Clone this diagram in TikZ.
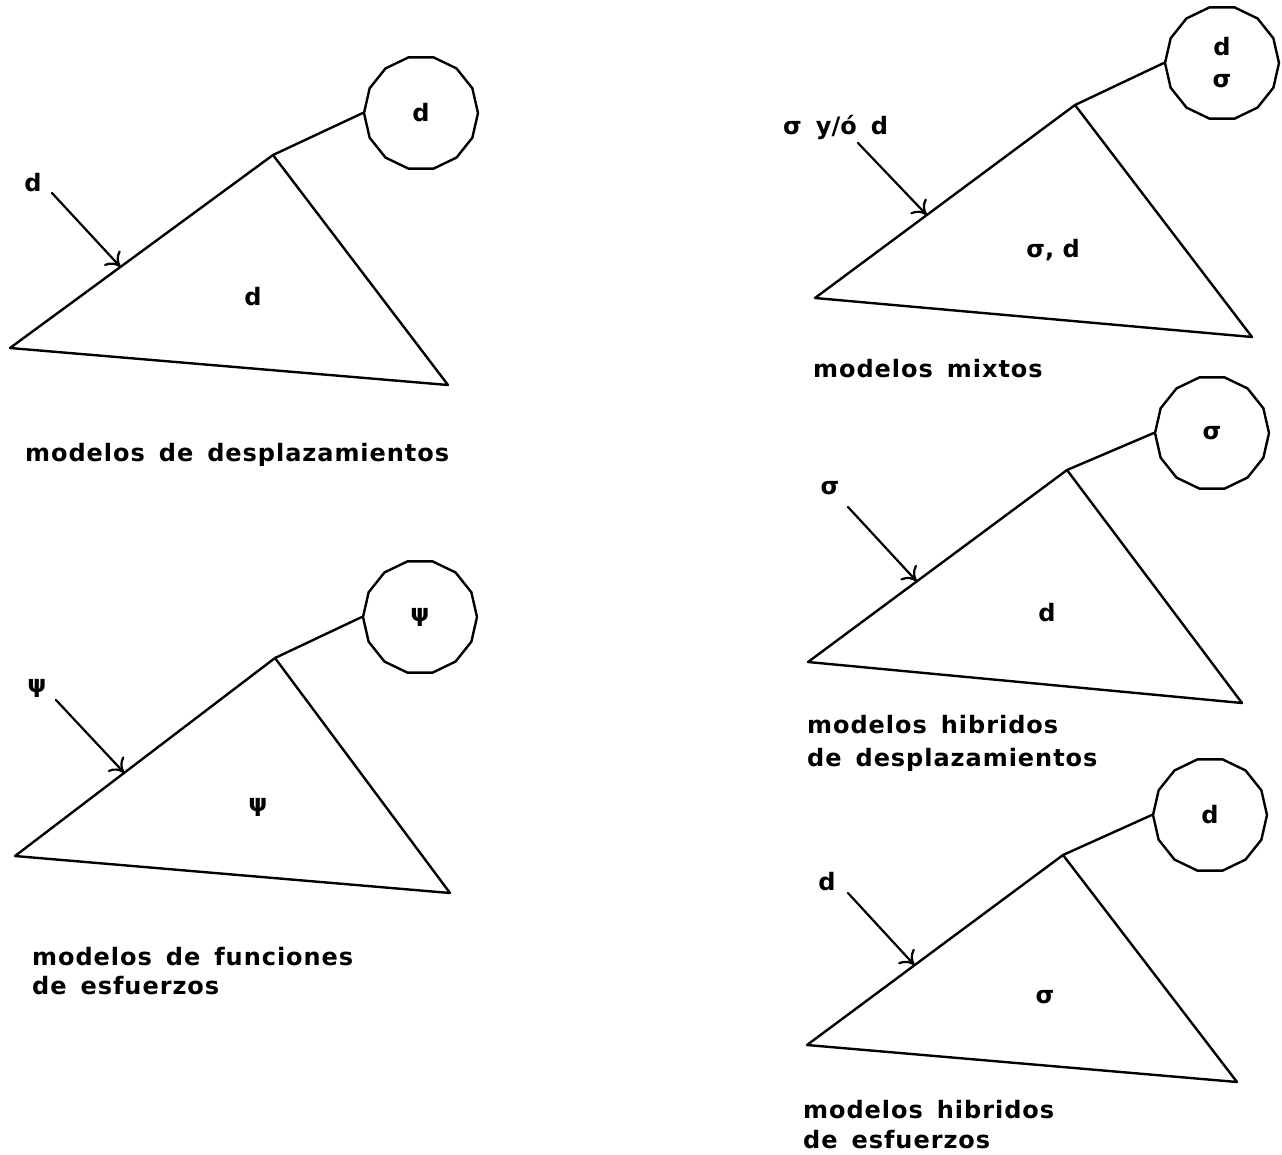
\documentclass[tikz,border=0pt]{standalone}
\usepackage{fontspec}
\setmainfont{DejaVu Sans}
\newfontfamily\capfont{DejaVu Sans}[LetterSpace=4]
\usetikzlibrary{shapes.geometric,arrows.meta,calc}
\newcommand{\gap}{\hspace{14pt}}
\tikzset{
  segline/.style={line width=2.4pt, line join=round, line cap=round},
  ringnode/.style={draw, regular polygon, regular polygon sides=14, minimum size=114pt, inner sep=0pt, line width=2.4pt, align=center},
  lbl/.style={font=\bfseries\fontsize{24}{32}\selectfont, inner sep=0pt},
  captxt/.style={font=\capfont\bfseries\fontsize{24}{28}\selectfont, anchor=base west, inner sep=0pt},
  forcearrow/.style={line width=2.2pt, line cap=round, -{To[length=13pt,width=22pt]}},
}
\begin{document}
\begin{tikzpicture}[x=1pt,y=-1pt]
\useasboundingbox[fill=white] (0,0) rectangle (1282,1154);

% ---------- panel 1: desplazamientos ----------
\coordinate (L1) at (10,348);
\coordinate (T1) at (273,155);
\coordinate (R1) at (448,385);
\draw[segline] (L1) -- (T1) -- (R1) -- cycle;
\node[ringnode, lbl] (C1) at (421,113) {d};
\draw[segline] (T1) -- (C1.west);
\coordinate (E1) at ($(L1)!0.42!(T1)$);
\coordinate (S1) at (52,193);
\draw[forcearrow] (S1) -- (E1);
\node[lbl] (f1) at (33,183) {d};
\node[lbl] (i1) at (253,297) {d};
\node[captxt] (cap1) at (25,461) {modelos\gap de\gap desplazamientos};

% ---------- panel 2: funciones de esfuerzos ----------
\coordinate (L2) at (15,856);
\coordinate (T2) at (275,658);
\coordinate (R2) at (450,893);
\draw[segline] (L2) -- (T2) -- (R2) -- cycle;
\node[ringnode, lbl] (C2) at (420,617) {ψ};
\draw[segline] (T2) -- (C2.west);
\coordinate (E2) at ($(L2)!0.42!(T2)$);
\coordinate (S2) at (56,700);
\draw[forcearrow] (S2) -- (E2);
\node[lbl] (f2) at (37,688) {ψ};
\node[lbl] (i2) at (258,807) {ψ};
\node[captxt] (cap2a) at (32,965) {modelos\gap de\gap funciones};
\node[captxt] (cap2b) at (32,994) {de\gap esfuerzos};

% ---------- panel 3: mixtos ----------
\coordinate (L3) at (815,298);
\coordinate (T3) at (1075,105);
\coordinate (R3) at (1252,337);
\draw[segline] (L3) -- (T3) -- (R3) -- cycle;
\node[ringnode, lbl] (C3) at (1222,63) {d\\σ};
\draw[segline] (T3) -- (C3.west);
\coordinate (E3) at ($(L3)!0.43!(T3)$);
\coordinate (S3) at (858,143);
\draw[forcearrow] (S3) -- (E3);
\node[lbl, anchor=west] (f3) at (783,127) {σ\gap y/ó\gap d};
\node[lbl] (i3) at (1053,250) {σ, d};
\node[captxt] (cap3) at (813,377) {modelos\gap mixtos};

% ---------- panel 4: hibridos de desplazamientos ----------
\coordinate (L4) at (808,662);
\coordinate (T4) at (1067,470);
\coordinate (R4) at (1242,703);
\draw[segline] (L4) -- (T4) -- (R4) -- cycle;
\node[ringnode, lbl] (C4) at (1212,433) {σ};
\draw[segline] (T4) -- (C4.west);
\coordinate (E4) at ($(L4)!0.42!(T4)$);
\coordinate (S4) at (848,507);
\draw[forcearrow] (S4) -- (E4);
\node[lbl] (f4) at (830,488) {σ};
\node[lbl] (i4) at (1047,613) {d};
\node[captxt] (cap4a) at (807,733) {modelos\gap hibridos};
\node[captxt] (cap4b) at (807,766) {de\gap desplazamientos};

% ---------- panel 5: hibridos de esfuerzos ----------
\coordinate (L5) at (807,1045);
\coordinate (T5) at (1063,855);
\coordinate (R5) at (1237,1082);
\draw[segline] (L5) -- (T5) -- (R5) -- cycle;
\node[ringnode, lbl] (C5) at (1210,815) {d};
\draw[segline] (T5) -- (C5.west);
\coordinate (E5) at ($(L5)!0.42!(T5)$);
\coordinate (S5) at (848,893);
\draw[forcearrow] (S5) -- (E5);
\node[lbl] (f5) at (827,882) {d};
\node[lbl] (i5) at (1045,997) {σ};
\node[captxt] (cap5a) at (803,1118) {modelos\gap hibridos};
\node[captxt] (cap5b) at (803,1148) {de\gap esfuerzos};
\end{tikzpicture}
\end{document}
